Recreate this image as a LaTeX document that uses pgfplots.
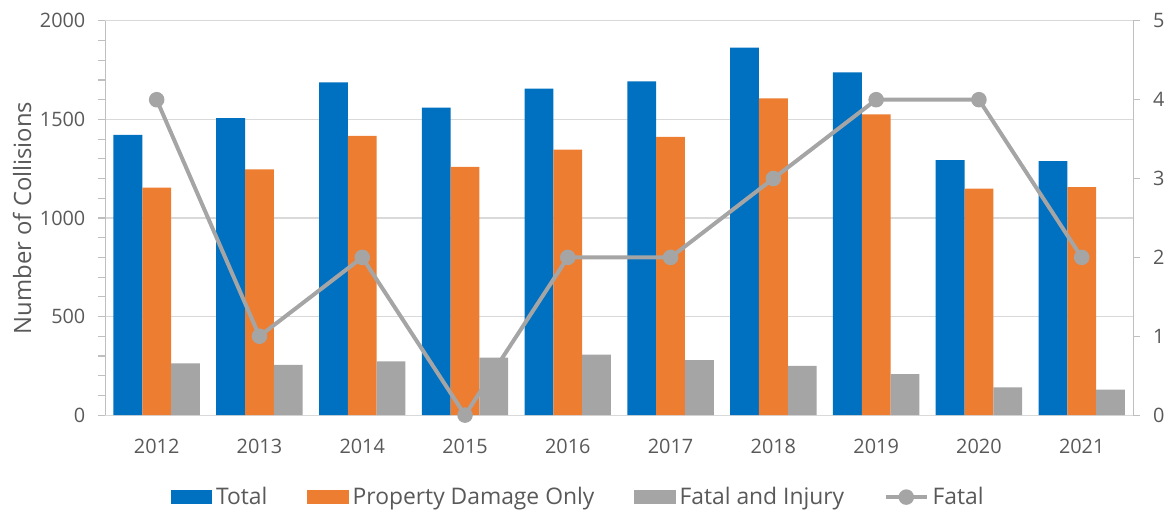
\documentclass[border=0pt]{standalone}
\usepackage{pgfplots}
\pgfplotsset{compat=1.18}
\usepackage{pgfplotstable}
\usepackage{fontspec}
\setmainfont{Open Sans}

\definecolor{cblue}{HTML}{0070C0}
\definecolor{corange}{HTML}{ED7D31}
\definecolor{cgray}{HTML}{A5A5A5}
\definecolor{ctext}{HTML}{595959}
\definecolor{caxis}{HTML}{BFBFBF}
\definecolor{cgrid}{HTML}{D9D9D9}

\pgfplotsset{
  barleg/.style={legend image code/.code={\fill[#1] (0pt,-3.3pt) rectangle (20.5pt,3.3pt);}},
  lineleg/.style={legend image code/.code={\draw[mark repeat=2, mark phase=2, ##1] plot coordinates {(0pt,0pt)(10.25pt,0pt)(20.5pt,0pt)};}},
}

\pgfplotstableread{
x year total pdo fi fatal
0 2012 1422 1154 263 4
1 2013 1506 1246 255 1
2 2014 1688 1416 272 2
3 2015 1560 1259 292 0
4 2016 1656 1347 307 2
5 2017 1693 1412 279 2
6 2018 1864 1607 250 3
7 2019 1738 1526 208 4
8 2020 1293 1149 141 4
9 2021 1288 1157 129 2
}\data

\begin{document}
\begin{tikzpicture}
\pgfplotsset{
  base/.style={
    scale only axis, width=517.5pt, height=198.5pt,
    xmin=-0.5, xmax=9.5,
    /pgf/number format/assume math mode=true,
    /pgf/number format/1000 sep={},
    tick label style={font=\fontsize{10}{12}\selectfont, text=ctext},
    tick align=outside, major tick length=3.5pt, minor tick length=3.5pt,
  }
}
\begin{axis}[base, name=main,
    ybar=0pt, bar width=14.5pt,
    ymin=0, ymax=2000, ytick={0,500,...,2000}, minor y tick num=4,
    axis y line*=left, axis x line*=bottom,
    y axis line style={caxis, line width=0.6pt},
    x axis line style={cgrid, line width=0.6pt},
    y tick style={caxis, line width=0.6pt},
    xtick=data, xticklabels={2012,2013,2014,2015,2016,2017,2018,2019,2020,2021},
    xtick style={draw=none},
    xticklabel style={yshift=-5pt},
    yticklabel style={xshift=-3pt},
    ymajorgrids, grid style={cgrid, line width=0.6pt},
    ylabel={Number of Collisions},
    ylabel style={font=\fontsize{12}{14}\selectfont, text=ctext,
      at={(axis description cs:-0.081,0.5)}, anchor=center},
  ]
  \addplot[fill=cblue, draw=none] table[x=x, y=total] {\data};
  \addplot[fill=corange, draw=none] table[x=x, y=pdo] {\data};
  \addplot[fill=cgray, draw=none] table[x=x, y=fi] {\data};
\end{axis}
\begin{axis}[base,
    ymin=0, ymax=5, ytick={0,1,...,5},
    axis y line*=right, axis x line=none,
    y axis line style={caxis, line width=0.6pt},
    y tick style={caxis, line width=0.6pt},
    yticklabel style={xshift=3pt},
    clip=false,
    legend columns=4,
    legend style={draw=none, fill=none, text=ctext,
      font=\fontsize{11.5}{13}\selectfont,
      at={(axis description cs:0.461,-0.208)}, anchor=center,
      /tikz/every even column/.append style={column sep=18pt}},
  ]
  \addlegendimage{barleg=cblue}
  \addlegendentry{Total}
  \addlegendimage{barleg=corange}
  \addlegendentry{Property Damage Only}
  \addlegendimage{barleg=cgray}
  \addlegendentry{Fatal and Injury}
  \addplot[cgray, line width=2pt, mark=*, mark size=2.9pt, mark options={fill=cgray}, lineleg]
    table[x=x, y=fatal] {\data};
  \addlegendentry{Fatal}
\end{axis}
\path ([shift={(-53pt,-47pt)}]main.south west) rectangle ([shift={(15pt,10.5pt)}]main.north east);
\end{tikzpicture}
\end{document}
